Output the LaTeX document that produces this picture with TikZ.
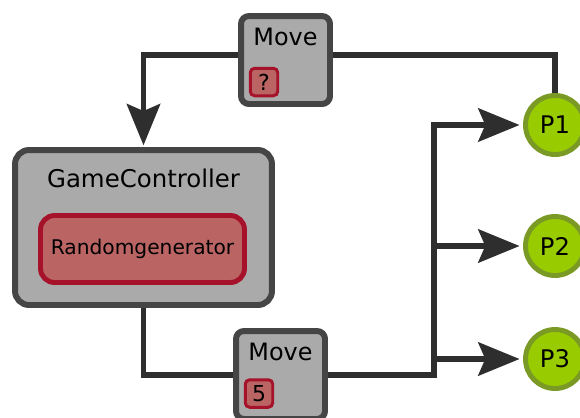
\documentclass[tikz,border=0pt]{standalone}
\usepackage{fontspec}
\setmainfont{DejaVu Sans}
\usetikzlibrary{arrows.meta}

\definecolor{boxgray}{HTML}{AAAAAA}
\definecolor{boxedge}{HTML}{454545}
\definecolor{wirecol}{HTML}{2E2E2E}
\definecolor{redfill}{HTML}{BA6464}
\definecolor{rededge}{HTML}{A5122A}
\definecolor{playerfill}{HTML}{99CC00}
\definecolor{playeredge}{HTML}{7A9A25}

\begin{document}
\begin{tikzpicture}[x=0.02cm,y=-0.02cm,
    box/.style={draw=boxedge,fill=boxgray,line width=3.4pt,rounded corners=4.5pt},
    randbox/.style={draw=rededge,fill=redfill,line width=2.8pt,rounded corners=8pt,
      minimum width=4.08cm,minimum height=1.34cm,font=\fontsize{11.5}{13}\selectfont},
    tag/.style={draw=rededge,fill=redfill,line width=1.7pt,rounded corners=2.5pt,inner sep=0pt,
      minimum width=0.55cm,minimum height=0.55cm,font=\fontsize{12.5}{14}\selectfont},
    player/.style={circle,draw=playeredge,fill=playerfill,line width=2.8pt,
      minimum size=1.18cm,inner sep=0pt,font=\fontsize{13.8}{15}\selectfont},
    movetext/.style={font=\fontsize{13.6}{15}\selectfont},
    wire/.style={draw=wirecol,line width=3pt},
    arr/.style={-{Stealth[length=23.5pt,width=19pt,inset=4pt]},shorten >=2pt}]
  \useasboundingbox (0,0) rectangle (580,417);

  % controller with its random generator
  \node[box,rounded corners=8pt,minimum width=5.14cm,minimum height=3.1cm] (gc) at (143.5,227.5) {};
  \node[font=\fontsize{13.9}{15}\selectfont] (gclabel) at (143.5,178) {GameController};
  \node[randbox] (rand) at (142.5,249) {Randomgenerator};

  % move boxes (incoming and outgoing)
  \node[box,minimum width=1.78cm,minimum height=1.76cm] (movetop) at (285.5,60) {};
  \node[movetext] (movetoplabel) at (285.5,37) {Move};
  \node[tag] (qtag) at (264,82) {?};

  \node[box,minimum width=1.78cm,minimum height=1.76cm] (movebot) at (280.5,375) {};
  \node[movetext] (movebotlabel) at (280.5,352) {Move};
  \node[tag] (ntag) at (259,393.5) {5};

  % players
  \node[player] (p1) at (555,125) {P1};
  \node[player] (p2) at (555,246) {P2};
  \node[player] (p3) at (555,359) {P3};

  % P1 sends its move back to the controller
  \draw[wire] (p1.north) |- ([yshift=2.8pt]movetop.east);
  \draw[wire,arr,shorten >=1pt] ([yshift=2.8pt]movetop.west) -| (gc.north);

  % controller hands the result to every player
  \coordinate (fork) at (434,375);
  \draw[wire] (gc.south) |- (movebot.west);
  \draw[wire,arr] (movebot.east) -- (fork) |- (p1.west);
  \draw[wire,arr] (fork |- p2.west) -- (p2.west);
  \draw[wire,arr] (fork |- p3.west) -- (p3.west);
\end{tikzpicture}
\end{document}
